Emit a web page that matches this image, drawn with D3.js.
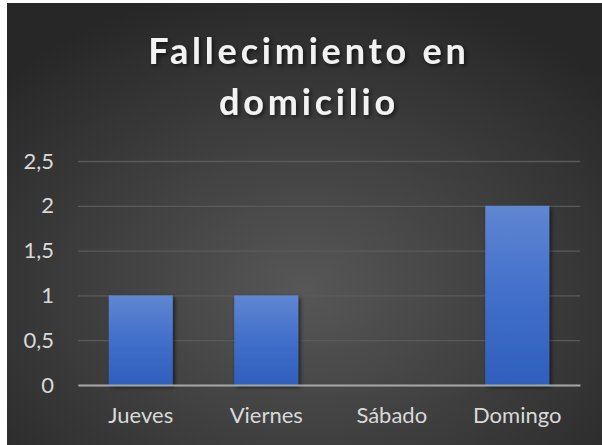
<!DOCTYPE html>
<html>
<head>
<meta charset="utf-8">
<script src="https://cdn.jsdelivr.net/npm/d3@7"></script>
<style>
  body { margin: 0; background: #fff; }
  svg { display: block; }
</style>
</head>
<body>
<svg id="chart"></svg>
<script>
const categories = ["Jueves", "Viernes", "Sábado", "Domingo"];
const values = [1, 1, 0, 2];
const yTicks = [0, 0.5, 1, 1.5, 2, 2.5];
const titleLines = ["Fallecimiento en", "domicilio"];

const width = 602, height = 445;
const margin = { top: 161, right: 22, bottom: 60, left: 78 };

const svg = d3.select("#chart").attr("width", width).attr("height", height);
const defs = svg.append("defs");

// dark radial background
const bg = defs.append("radialGradient").attr("id", "bg")
  .attr("cx", "50%").attr("cy", "65%").attr("r", "70%");
bg.append("stop").attr("offset", "0%").attr("stop-color", "#575757");
bg.append("stop").attr("offset", "100%").attr("stop-color", "#272727");

const barGrad = defs.append("linearGradient").attr("id", "bar")
  .attr("x1", 0).attr("y1", 0).attr("x2", 0).attr("y2", 1);
barGrad.append("stop").attr("offset", "0%").attr("stop-color", "#6086d3");
barGrad.append("stop").attr("offset", "50%").attr("stop-color", "#416fca");
barGrad.append("stop").attr("offset", "100%").attr("stop-color", "#2f5fbd");

const shadow = defs.append("filter").attr("id", "shadow")
  .attr("x", "-20%").attr("y", "-20%").attr("width", "140%").attr("height", "140%");
shadow.append("feDropShadow").attr("dx", 2).attr("dy", 2).attr("stdDeviation", 2)
  .attr("flood-color", "#000").attr("flood-opacity", 0.6);

svg.append("rect").attr("x", 7).attr("y", 3)
  .attr("width", width - 7).attr("height", height - 3)
  .attr("fill", "url(#bg)");

// title
svg.append("g").selectAll("text").data(titleLines).join("text")
  .attr("x", 309)
  .attr("y", (d, i) => 64 + i * 51)
  .attr("text-anchor", "middle")
  .attr("fill", "#f2f2f2")
  .attr("font-family", "Lato, 'Open Sans', sans-serif")
  .attr("font-weight", "bold")
  .attr("font-size", 36)
  .attr("letter-spacing", 3.8)
  .attr("filter", "url(#shadow)")
  .text(d => d);

const x = d3.scaleBand().domain(categories)
  .range([margin.left, width - margin.right]).paddingInner(0.49).paddingOuter(0.245);
const y = d3.scaleLinear().domain([0, 2.5]).range([height - margin.bottom, margin.top]);

const fmt = d => String(d).replace(".", ",");

// grid
svg.append("g")
  .attr("transform", `translate(${margin.left},0)`)
  .call(d3.axisLeft(y).tickValues(yTicks).tickSize(-(width - margin.left - margin.right)).tickFormat(""))
  .call(g => g.select(".domain").remove())
  .call(g => g.selectAll("line").attr("stroke", "#5a5a5a").attr("stroke-width", 1.3));

// y labels
svg.append("g")
  .attr("transform", `translate(${margin.left},0)`)
  .call(d3.axisLeft(y).tickValues(yTicks).tickSize(0).tickPadding(24).tickFormat(fmt))
  .call(g => g.select(".domain").remove())
  .call(g => g.selectAll("text").attr("fill", "#d9d9d9")
    .attr("font-family", "Lato, 'Open Sans', sans-serif").attr("font-size", 22));

// bars
svg.append("g").selectAll("rect").data(values).join("rect")
  .attr("x", (d, i) => x(categories[i]))
  .attr("y", d => y(d))
  .attr("width", x.bandwidth())
  .attr("height", d => y(0) - y(d))
  .attr("fill", "url(#bar)")
  .attr("filter", d => d > 0 ? "url(#shadow)" : null);

// x axis
svg.append("g")
  .attr("transform", `translate(0,${y(0)})`)
  .call(d3.axisBottom(x).tickSize(0).tickPadding(22))
  .call(g => g.select(".domain").attr("stroke", "#a6a6a6").attr("stroke-width", 2))
  .call(g => g.selectAll("text").attr("fill", "#d9d9d9")
    .attr("font-family", "Lato, 'Open Sans', sans-serif").attr("font-size", 22));
</script>
</body>
</html>
